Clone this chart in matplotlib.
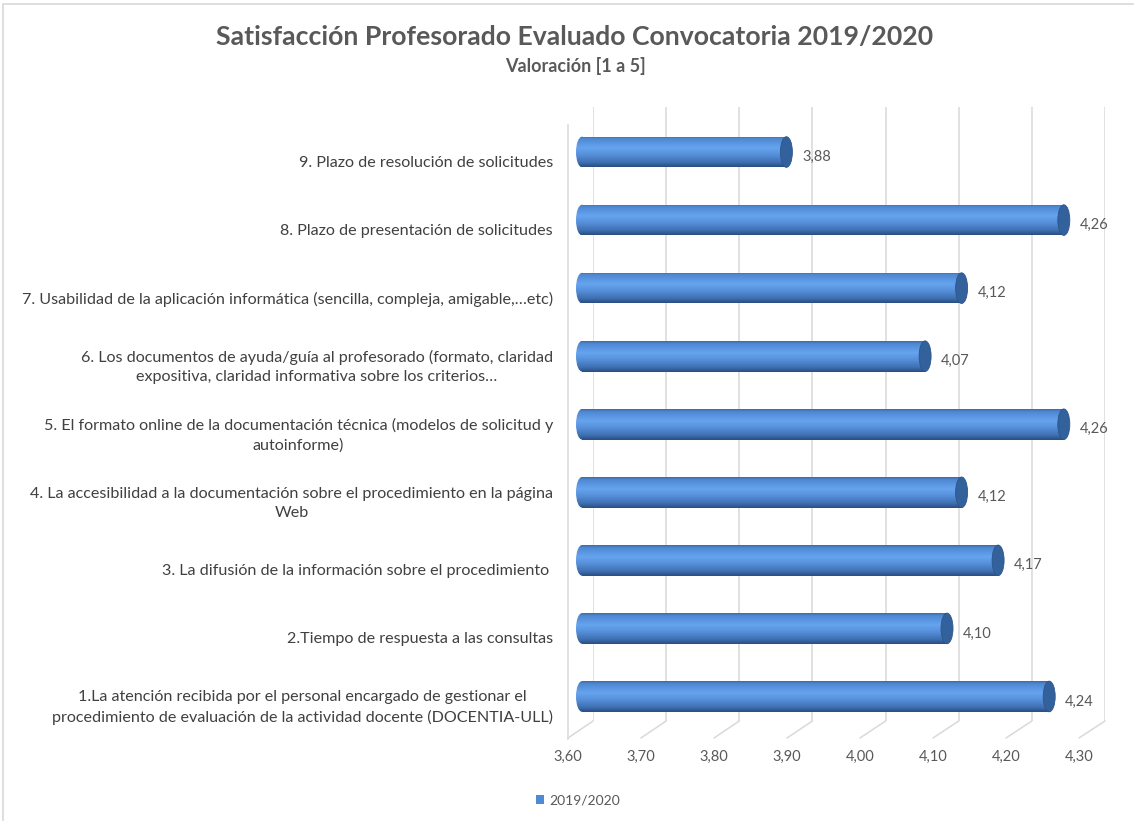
import numpy as np
import matplotlib
matplotlib.use("Agg")
import matplotlib.pyplot as plt
from matplotlib.colors import LinearSegmentedColormap
from matplotlib.patches import Rectangle, Ellipse, Patch, ConnectionPatch
from matplotlib.lines import Line2D
from matplotlib.transforms import blended_transform_factory

# Data (bottom to top, as in the chart)
labels = [
    "1.La atención recibida por el personal encargado de gestionar el\nprocedimiento de evaluación de la actividad docente (DOCENTIA-ULL)",
    "2.Tiempo de respuesta a las consultas",
    "3. La difusión de la información sobre el procedimiento ",
    "4. La accesibilidad a la documentación sobre el procedimiento en la página\nWeb",
    "5. El formato online de la documentación técnica (modelos de solicitud y\nautoinforme)",
    "6. Los documentos de ayuda/guía al profesorado (formato, claridad\nexpositiva, claridad informativa sobre los criterios…",
    "7. Usabilidad de la aplicación informática (sencilla, compleja, amigable,…etc)",
    "8. Plazo de presentación de solicitudes",
    "9. Plazo de resolución de solicitudes",
]
values = [4.24, 4.10, 4.17, 4.12, 4.26, 4.07, 4.12, 4.26, 3.88]
ticks = [3.60, 3.70, 3.80, 3.90, 4.00, 4.10, 4.20, 4.30]
series_name = "2019/2020"
title = "Satisfacción Profesorado Evaluado Convocatoria 2019/2020"
subtitle = "Valoración [1 a 5]"

plt.rcParams["font.family"] = ["Lato", "DejaVu Sans"]

W, H = 1134, 821
fig = plt.figure(figsize=(W / 100, H / 100), dpi=100)

def rect(x0, y0, x1, y1):
    # pixel box (top-left origin) -> figure fraction
    return [x0 / W, 1 - y1 / H, (x1 - x0) / W, (y1 - y0) / H]

grid_color = "#d9d9d9"
xmin, xmax = ticks[0], ticks[-1]

# back wall with gridlines
ax_wall = fig.add_axes(rect(593, 107, 1105, 721))
ax_wall.set_xlim(xmin, xmax)
ax_wall.set_xticks(ticks)
ax_wall.set_yticks([])
ax_wall.tick_params(length=0, labelbottom=False)
ax_wall.grid(axis="x", color=grid_color, lw=1.1)
for s in ax_wall.spines.values():
    s.set_visible(False)
ax_wall.patch.set_alpha(0)

# front edge of the floor, carries the value labels
ax_floor = fig.add_axes(rect(568, 738, 1079, 739))
ax_floor.set_xlim(xmin, xmax)
ax_floor.set_xticks(ticks)
ax_floor.set_xticklabels([f"{t:.2f}".replace(".", ",") for t in ticks])
ax_floor.set_yticks([])
ax_floor.tick_params(length=0, pad=8, labelsize=10.5, labelcolor="#595959")
for s in ax_floor.spines.values():
    s.set_visible(False)
ax_floor.patch.set_alpha(0)

# floor diagonals
for t in ticks:
    con = ConnectionPatch(xyA=(t, 0), coordsA=ax_wall.get_xaxis_transform(),
                          xyB=(t, 1), coordsB=ax_floor.get_xaxis_transform(),
                          color=grid_color, lw=1.1)
    fig.add_artist(con)

# left wall front edge
edge_tr = blended_transform_factory(ax_floor.transData, fig.transFigure)
fig.add_artist(Line2D([xmin, xmin], [1 - 739 / H, 1 - 125 / H], transform=edge_tr,
                      color=grid_color, lw=1.1))

# bars
ax = fig.add_axes(rect(582, 118, 1093, 730.5))
ax.set_xlim(xmin, xmax)
ax.set_ylim(-0.5, len(values) - 0.5)
ax.axis("off")
ax.patch.set_alpha(0)

px_per_unit = ax.get_position().width * W / (xmax - xmin)
ew = 12 / px_per_unit   # width of the end ellipses
bh = 0.45

cyl = LinearSegmentedColormap.from_list("cyl", [
    (0.0, "#3b6cad"), (0.08, "#4f88d2"), (0.38, "#66a4ef"),
    (0.6, "#5790da"), (0.85, "#3e70b2"), (1.0, "#2a4e80")])
grad = np.linspace(0, 1, 64).reshape(-1, 1)

for i, v in enumerate(values):
    y0, y1 = i - bh / 2, i + bh / 2
    body = Rectangle((xmin, y0), v - xmin, bh, transform=ax.transData)
    left = Ellipse((xmin, i), ew, bh, transform=ax.transData)
    for clip in (body, left):
        im = ax.imshow(grad, cmap=cyl, aspect="auto", origin="upper",
                       extent=[xmin - ew, v, y0, y1], zorder=2)
        im.set_clip_box(fig.bbox)
        im.set_clip_path(clip)
    ax.add_patch(Ellipse((v, i), ew, bh, facecolor="#33619b",
                         edgecolor="#2c568a", lw=0.6, zorder=3))
    ax.annotate(f"{v:.2f}".replace(".", ","), xy=(v, i), xytext=(16, -5),
                textcoords="offset pixels", ha="left", va="center",
                fontsize=10.5, color="#595959")
    ax.annotate(labels[i], xy=(0, i), xycoords=ax.get_yaxis_transform(),
                xytext=(-29, -11), textcoords="offset pixels", ha="right",
                va="center", multialignment="center", linespacing=1.45,
                fontsize=11.6, color="#404040", annotation_clip=False)

ax.set_xlim(xmin, xmax)
ax.set_ylim(-0.5, len(values) - 0.5)

# titles
fig.text(575 / W, 1 - 37 / H, title, ha="center", va="center",
         fontsize=19.2, fontweight="bold", color="#595959")
fig.text(575 / W, 1 - 66 / H, subtitle, ha="center", va="center",
         fontsize=13, fontweight="bold", color="#595959")

# legend
fig.legend(handles=[Patch(facecolor="#4f8ad6", edgecolor="none")],
           labels=[series_name], loc="center",
           bbox_to_anchor=(578 / W, 1 - 800 / H), frameon=False,
           fontsize=10, labelcolor="#595959", handlelength=0.6,
           handleheight=0.6, handletextpad=0.4)

# chart border
fig.add_artist(Rectangle((3 / W, -0.01), 1.02, 1 - 4 / H + 0.01,
                         transform=fig.transFigure, fill=False,
                         edgecolor=grid_color, lw=1.2))

fig.savefig("out.png", dpi=100)
